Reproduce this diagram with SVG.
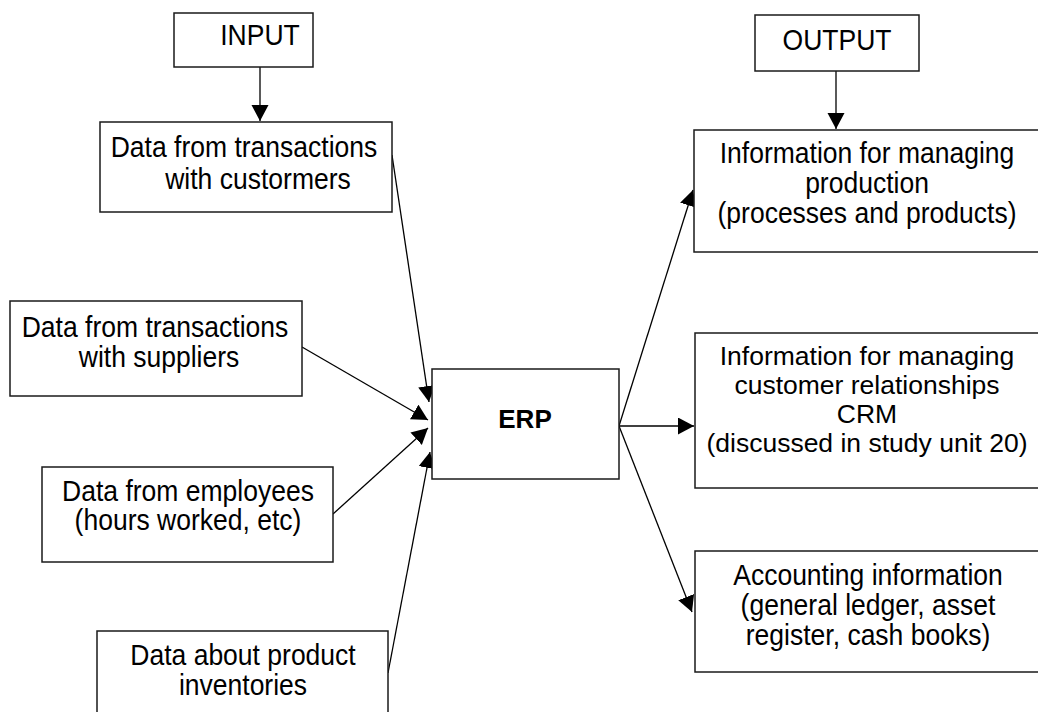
<svg xmlns="http://www.w3.org/2000/svg" width="1038" height="712" viewBox="0 0 1038 712">
<style>
.box{fill:#fff;stroke:#1a1a1a;stroke-width:1.5}
.t{font-family:"Liberation Sans",Arial,sans-serif;font-size:26.5px;fill:#000;text-anchor:middle}
.b{font-weight:bold;font-size:26px}
.c{stroke:#000;stroke-width:1.3;fill:none;marker-end:url(#ah)}
</style>
<defs>
<marker id="ah" markerUnits="userSpaceOnUse" markerWidth="18" markerHeight="18" refX="16" refY="8.5" orient="auto">
<path d="M0,0 L16,8.5 L0,17 z" fill="#000"/>
</marker>
</defs>
<rect width="1038" height="712" fill="#fff"/>
<g id="connectors">
<line class="c" x1="260" y1="67" x2="260" y2="121"/>
<line class="c" x1="836" y1="71" x2="836" y2="129"/>
<line class="c" x1="392" y1="155" x2="429" y2="402"/>
<line class="c" x1="302" y1="347" x2="428" y2="420"/>
<line class="c" x1="333" y1="514" x2="428" y2="428"/>
<line class="c" x1="388" y1="673" x2="430" y2="452"/>
<line class="c" x1="619" y1="426" x2="693" y2="190"/>
<line class="c" x1="619" y1="426" x2="694" y2="426"/>
<line class="c" x1="619" y1="426" x2="692" y2="612"/>
</g>
<g id="input">
<rect class="box" x="174" y="13" width="139" height="54"/>
<text class="t" transform="translate(260,45) scale(1,1.08)">INPUT</text>
</g>
<g id="output">
<rect class="box" x="755" y="15" width="164" height="56"/>
<text class="t" transform="translate(837,50) scale(1,1.08)">OUTPUT</text>
</g>
<g id="customers">
<rect class="box" x="100" y="122" width="292" height="90"/>
<text class="t" transform="translate(244,157) scale(1,1.08)">Data from transactions</text>
<text class="t" transform="translate(258,189) scale(1,1.08)">with custormers</text>
</g>
<g id="suppliers">
<rect class="box" x="10" y="301" width="292" height="95"/>
<text class="t" transform="translate(155,337) scale(1,1.08)">Data from transactions</text>
<text class="t" transform="translate(159,367) scale(1,1.08)">with suppliers</text>
</g>
<g id="employees">
<rect class="box" x="42" y="467" width="291" height="95"/>
<text class="t" transform="translate(188,501) scale(1,1.08)">Data from employees</text>
<text class="t" transform="translate(188,530) scale(1,1.08)">(hours worked, etc)</text>
</g>
<g id="inventories">
<rect class="box" x="97" y="631" width="291" height="90"/>
<text class="t" transform="translate(243,665) scale(1,1.08)">Data about product</text>
<text class="t" transform="translate(243,695) scale(1,1.08)">inventories</text>
</g>
<g id="erp">
<rect class="box" x="432" y="369" width="187" height="110"/>
<text class="t b" x="525" y="428">ERP</text>
</g>
<g id="production">
<rect class="box" x="694" y="130" width="360" height="122"/>
<text class="t" transform="translate(867,163) scale(1,1.08)">Information for managing</text>
<text class="t" transform="translate(867,193) scale(1,1.08)">production</text>
<text class="t" transform="translate(867,223) scale(1,1.08)">(processes and products)</text>
</g>
<g id="crm">
<rect class="box" x="695" y="333" width="360" height="155"/>
<text class="t" x="867" y="365">Information for managing</text>
<text class="t" x="867" y="394">customer relationships</text>
<text class="t" x="867" y="423">CRM</text>
<text class="t" x="867" y="452">(discussed in study unit 20)</text>
</g>
<g id="accounting">
<rect class="box" x="695" y="551" width="360" height="121"/>
<text class="t" transform="translate(868,585) scale(1,1.08)">Accounting information</text>
<text class="t" transform="translate(868,615) scale(1,1.08)">(general ledger, asset</text>
<text class="t" transform="translate(868,645) scale(1,1.08)">register, cash books)</text>
</g>
</svg>
